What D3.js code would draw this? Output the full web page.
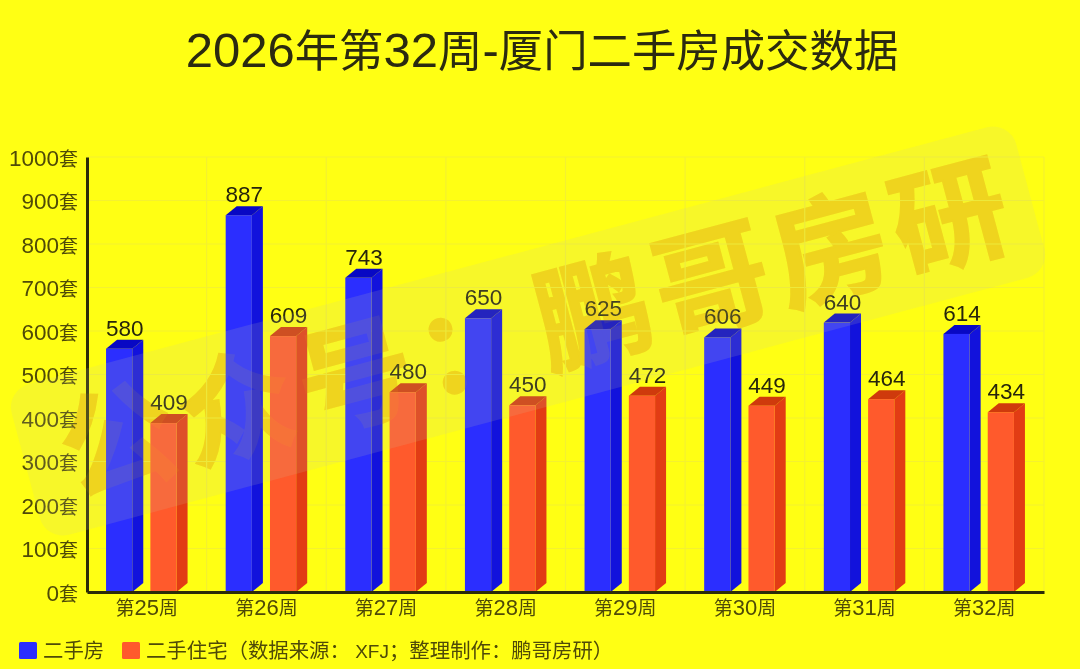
<!DOCTYPE html>
<html>
<head>
<meta charset="utf-8">
<script src="https://cdnjs.cloudflare.com/ajax/libs/d3/7.8.5/d3.min.js"></script>
<style>
  html, body { margin: 0; padding: 0; background: #ffff14; }
  svg { display: block; filter: blur(0.45px); }
</style>
</head>
<body>
<svg id="chart" width="1080" height="669"></svg>
<script>
var titleText = "2026年第32周-厦门二手房成交数据";
var weeks = ["第25周", "第26周", "第27周", "第28周", "第29周", "第30周", "第31周", "第32周"];
var seriesNames = ["二手房", "二手住宅"];
var resale = [580, 887, 743, 650, 625, 606, 640, 614];
var resaleHomes = [409, 609, 480, 450, 472, 449, 464, 434];
var yTicks = [0, 100, 200, 300, 400, 500, 600, 700, 800, 900, 1000];
var legendNote = "（数据来源： XFJ；整理制作：鹏哥房研）";
var watermark = "公众号：鹏哥房研";

var margin = {top: 157, right: 36, bottom: 77, left: 87};
var svg = d3.select("#chart");
var width = 1080 - margin.left - margin.right;
var height = 669 - margin.top - margin.bottom;
var depthX = 11, depthY = 9;

var colors = [
  {front: "#2b2eff", side: "#1212dc", top: "#0808c4"},
  {front: "#ff5a2c", side: "#e23c14", top: "#cf3a0c"}
];

// latin runs and cjk runs get their own font and size, digits are wider in the original
function mixedText(sel, str, latinSize, cjkSize) {
  sel.text(null);
  str.match(/[\x00-\x7f]+|[^\x00-\x7f]+/g).forEach(function(run) {
    var latin = /^[\x00-\x7f]/.test(run);
    sel.append("tspan")
      .attr("font-family", latin ? '"Liberation Sans"' : '"Noto Sans CJK SC"')
      .attr("font-size", latin ? latinSize : cjkSize)
      .attr("xml:space", "preserve")
      .text(run);
  });
}

svg.append("rect").attr("width", 1080).attr("height", 669).attr("fill", "#ffff14");

svg.append("text")
  .attr("x", 542).attr("y", 67)
  .attr("text-anchor", "middle")
  .attr("fill", "#2b2a10")
  .call(mixedText, titleText, 49, 44.4);

var g = svg.append("g").attr("transform", `translate(${margin.left}, ${margin.top})`);

var x0 = d3.scaleBand().domain(weeks).range([0, width]);
var x1 = d3.scaleBand().domain(seriesNames).range([0, x0.bandwidth()]).paddingInner(0.16).paddingOuter(0.43);
var y = d3.scaleLinear().domain([0, 1000]).range([height, 0]);

// grid
g.append("g").selectAll("line").data(yTicks.slice(1)).join("line")
  .attr("x1", 0).attr("x2", width)
  .attr("y1", d => y(d)).attr("y2", d => y(d))
  .attr("stroke", "#f4f130").attr("stroke-width", 1.2);
g.append("g").selectAll("line").data(weeks).join("line")
  .attr("x1", d => x0(d) + x0.bandwidth()).attr("x2", d => x0(d) + x0.bandwidth())
  .attr("y1", 0).attr("y2", height)
  .attr("stroke", "#f4f130").attr("stroke-width", 1.2);

// watermark text sits behind the bars, a faint copy goes over them later
var wmTransform = "translate(528, 331) rotate(-15)";
function drawWatermarkText(opacity) {
  svg.append("text")
    .attr("transform", wmTransform)
    .attr("x", 10)
    .attr("y", 41)
    .attr("text-anchor", "middle")
    .attr("font-family", '"Noto Sans CJK SC"')
    .attr("font-size", 115)
    .attr("font-weight", 700)
    .attr("letter-spacing", 8)
    .attr("fill", "#f6d60a")
    .attr("stroke", "#f6d60a")
    .attr("stroke-width", 2)
    .attr("opacity", opacity)
    .text(watermark);
}
drawWatermarkText(1);
g.raise();

// bars, one series after the other
var barGroups = g.append("g");
[resale, resaleHomes].forEach(function(values, s) {
  var name = seriesNames[s];
  var w = x1.bandwidth() - depthX;
  var bars = barGroups.append("g").selectAll("g").data(values).join("g")
    .attr("transform", (d, i) => `translate(${x0(weeks[i]) + x1(name)}, 0)`);

  // side
  bars.append("path")
    .attr("fill", colors[s].side)
    .attr("d", d => `M${w},${y(d) + depthY}L${w + depthX},${y(d)}L${w + depthX},${height - depthY}L${w},${height}Z`);
  // top
  bars.append("path")
    .attr("fill", colors[s].top)
    .attr("d", d => `M0,${y(d) + depthY}L${depthX},${y(d)}L${w + depthX},${y(d)}L${w},${y(d) + depthY}Z`);
  // front
  bars.append("rect")
    .attr("width", w)
    .attr("y", d => y(d) + depthY)
    .attr("height", d => height - y(d) - depthY)
    .attr("fill", colors[s].front);
  // value
  bars.append("text")
    .attr("x", x1.bandwidth() / 2)
    .attr("y", d => y(d) - 4)
    .attr("text-anchor", "middle")
    .attr("font-family", '"Liberation Sans"')
    .attr("font-size", 22.5)
    .attr("fill", "#26250c")
    .text(d => d);
});

// axes
var yAxis = g.append("g")
  .call(d3.axisLeft(y).tickValues(yTicks).tickSize(0).tickPadding(9).tickFormat(d => d + "套"));
yAxis.select(".domain").attr("stroke", "#2c2c08").attr("stroke-width", 3);
yAxis.selectAll("text").each(function(d) {
  d3.select(this).attr("fill", "#4f4a08").attr("dy", 8).call(mixedText, d + "套", 22.5, 19);
});

var xAxis = g.append("g")
  .attr("transform", `translate(0, ${height})`)
  .call(d3.axisBottom(x0).tickSize(0));
xAxis.select(".domain").attr("stroke", "#2c2c08").attr("stroke-width", 3);
xAxis.selectAll("text").each(function(d) {
  d3.select(this).attr("fill", "#4f4a08").attr("y", 23).attr("dy", 0).call(mixedText, d, 22, 19);
});

// legend
var legendX = [19, 122];
seriesNames.forEach(function(name, s) {
  svg.append("rect")
    .attr("x", legendX[s]).attr("y", 642)
    .attr("width", 18).attr("height", 17).attr("rx", 1.5)
    .attr("fill", colors[s].front);
  svg.append("text")
    .attr("x", legendX[s] + 24).attr("y", 658)
    .attr("fill", "#4f4a08")
    .call(mixedText, s == 1 ? name + legendNote : name, 19, 20.4);
});

// the plate of the watermark lies over everything
svg.append("rect")
  .attr("transform", wmTransform)
  .attr("x", -520).attr("y", -78).attr("width", 1040).attr("height", 156).attr("rx", 24)
  .attr("fill", "#c8c8a0").attr("opacity", 0.15);
drawWatermarkText(0.08);
</script>
</body>
</html>
